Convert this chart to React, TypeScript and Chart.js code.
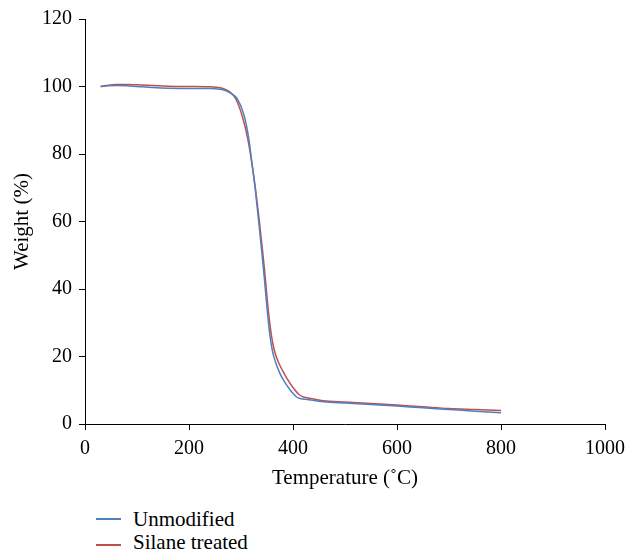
import React, { useEffect, useRef } from "react";
import { Chart, registerables } from "chart.js";

Chart.register(...registerables);

const unmodTemp = [30, 45, 60, 80, 100, 130, 160, 200, 240, 260, 270, 280, 293, 306, 315, 321.5, 328, 334, 340, 345, 350, 355, 360, 366, 374, 382, 395, 407, 415, 427, 458, 500, 550, 600, 650, 700, 750, 800];
const unmodWeight = [100.0, 100.2, 100.3, 100.2, 100.0, 99.7, 99.5, 99.4, 99.4, 99.2, 98.8, 98.0, 96.3, 91.4, 84.5, 76.7, 68.8, 60, 51, 43, 34.5, 27, 22, 18.5, 15.3, 12.9, 10, 8.0, 7.5, 7.25, 6.6, 6.2, 5.8, 5.3, 4.8, 4.3, 3.8, 3.3];

const silaneTemp = [30, 45, 60, 80, 100, 130, 160, 200, 240, 260, 270, 280, 290, 302, 313, 321.5, 328, 335, 341, 346, 351, 356, 361, 366, 372, 380, 388, 400, 411, 420, 427, 458, 500, 550, 600, 650, 700, 750, 800];
const silaneWeight = [100.0, 100.4, 100.6, 100.6, 100.5, 100.3, 100.1, 100.0, 99.9, 99.6, 99.1, 98.2, 96.3, 91.4, 84.5, 76.7, 69.5, 60.5, 52, 44.5, 36, 29, 24, 20.8, 18.3, 15.8, 13.6, 10.8, 8.8, 8.0, 7.8, 6.9, 6.5, 6.1, 5.6, 5.1, 4.6, 4.3, 4.0];

const seriesNames = ["Unmodified", "Silane treated"];
const seriesColors = ["#4F81BD", "#C0504D"];
const xTitle = "Temperature (˚C)";
const yTitle = "Weight (%)";
const xMin = 0, xMax = 1000, xStep = 200;
const yMin = 0, yMax = 120, yStep = 20;

const FONT = "'Liberation Serif', 'Times New Roman', serif";

export default function App() {
  const ref = useRef<HTMLCanvasElement | null>(null);
  useEffect(() => {
    if (!ref.current) return;
    const toPts = (xs: number[], ys: number[]) => xs.map((x, i) => ({ x, y: ys[i] }));
    const chart = new Chart(ref.current, {
      type: "line",
      data: {
        datasets: [
          {
            label: seriesNames[0],
            data: toPts(unmodTemp, unmodWeight),
            borderColor: seriesColors[0],
            backgroundColor: seriesColors[0],
            borderWidth: 1.5,
            pointRadius: 0,
            cubicInterpolationMode: "monotone",
          },
          {
            label: seriesNames[1],
            data: toPts(silaneTemp, silaneWeight),
            borderColor: seriesColors[1],
            backgroundColor: seriesColors[1],
            borderWidth: 1.5,
            pointRadius: 0,
            cubicInterpolationMode: "monotone",
          },
        ],
      },
      options: {
        animation: false,
        responsive: false,
        maintainAspectRatio: false,
        layout: { padding: { left: 0, right: 23.3, top: 16, bottom: 0 } },
        plugins: { legend: { display: false }, tooltip: { enabled: false } },
        scales: {
          x: {
            type: "linear",
            min: xMin,
            max: xMax,
            ticks: {
              stepSize: xStep,
              color: "#000",
              font: { family: FONT, size: 20 },
              padding: 7,
              maxRotation: 0,
              callback: (v: any) => String(v),
            },
            grid: { display: true, drawOnChartArea: false, drawTicks: true, tickLength: 6, color: "#000" },
            border: { display: true, color: "#000", width: 1 },
            title: { display: true, text: xTitle, color: "#000", font: { family: FONT, size: 21 }, padding: { top: 0, bottom: 9 } },
            afterFit: (s: any) => { s.height = 76; },
          },
          y: {
            type: "linear",
            min: yMin,
            max: yMax,
            ticks: { stepSize: yStep, color: "#000", font: { family: FONT, size: 20 }, padding: 7, callback: (v: any) => String(v) },
            grid: { display: true, drawOnChartArea: false, drawTicks: true, tickLength: 6, color: "#000" },
            border: { display: true, color: "#000", width: 1 },
            title: { display: true, text: yTitle, color: "#000", font: { family: FONT, size: 21 }, padding: { top: 10, bottom: 0 } },
            afterFit: (s: any) => { s.width = 85; },
          },
        },
      },
    } as any);
    return () => chart.destroy();
  }, []);

  const legendText: React.CSSProperties = {
    position: "absolute",
    left: 133,
    fontFamily: FONT,
    fontSize: 21,
    lineHeight: "24px",
    color: "#000",
    whiteSpace: "nowrap",
  };
  const legendLine = (top: number, color: string): React.CSSProperties => ({
    position: "absolute",
    left: 96,
    top,
    width: 25,
    height: 0,
    borderTop: `2px solid ${color}`,
  });

  return (
    <div style={{ position: "absolute", left: 0, top: 0, width: 632, height: 554, background: "#fff" }}>
      <canvas ref={ref} width={632} height={500} style={{ position: "absolute", left: 0, top: 0, width: 632, height: 500 }} />
      <div style={legendLine(518, seriesColors[0])} />
      <div style={{ ...legendText, top: 507 }}>{seriesNames[0]}</div>
      <div style={legendLine(544, seriesColors[1])} />
      <div style={{ ...legendText, top: 530 }}>{seriesNames[1]}</div>
    </div>
  );
}
